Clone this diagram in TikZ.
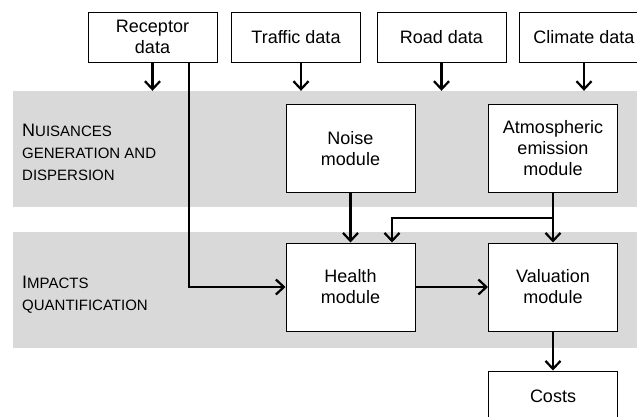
\documentclass[tikz,border=0pt]{standalone}
\usepackage{fontspec}
\setmainfont{Liberation Sans}
\usetikzlibrary{arrows.meta,calc}
\definecolor{bandgray}{RGB}{217,217,217}
\newcommand{\stagecap}[1]{{\fontsize{18}{22}\selectfont #1}}
\begin{document}
\begin{tikzpicture}[
  x=1pt, y=-1pt,
  box/.style={rectangle, draw, line width=1pt, fill=white, inner sep=0pt,
    minimum width=129pt, align=center, font=\fontsize{18}{21}\selectfont},
  data/.style={box, minimum height=50pt},
  module/.style={box, minimum height=88pt},
  band/.style={rectangle, fill=bandgray, inner sep=0pt, minimum width=627pt, minimum height=116pt},
  stage/.style={anchor=west, inner sep=0pt, align=left, font=\fontsize{15}{22}\selectfont},
  flow/.style={draw, line width=2.2pt, -{Straight Barb[length=8pt,width=15pt,line width=2.2pt]}}
]
\useasboundingbox (0,0) rectangle (637,416);
% shaded stages
\node[band] (band1) at (326.5,149) {};
\node[band] (band2) at (326.5,290) {};
\node[stage] (nuis) at (22,152) {\stagecap{N}UISANCES\\GENERATION AND\\DISPERSION};
\node[stage] (imp) at (22,295) {\stagecap{I}MPACTS\\QUANTIFICATION};
% inputs
\node[data] (receptor) at (152.5,37) {Receptor\\data};
\node[data] (traffic) at (296,37) {Traffic data};
\node[data] (road) at (441.5,37) {Road data};
\node[data] (climate) at (584,37) {Climate data};
% modules
\node[module] (noise) at (350.5,148.5) {Noise\\module};
\node[module] (atmos) at (553,148.5) {Atmospheric\\emission\\module};
\node[module] (health) at (350.5,287) {Health\\module};
\node[module] (valuation) at (553,287) {Valuation\\module};
\node[data] (costs) at (553,396) {Costs};
\coordinate (split) at ($(atmos.south)!0.5!(valuation.north)$);
% connectors
\draw[flow] (receptor.south) -- (receptor.south |- band1.north);
\draw[flow] ([xshift=5pt]traffic.south) -- ([xshift=5pt]traffic.south |- band1.north);
\draw[flow] (road.south) -- (road.south |- band1.north);
\draw[flow] (climate.south) -- (climate.south |- band1.north);
\draw[flow] ([xshift=36.5pt]receptor.south) |- (health.west);
\draw[flow] (noise.south) -- (health.north);
\draw[flow] (atmos.south) -- (valuation.north);
\draw[flow] (split) -| ([xshift=41.5pt]health.north);
\draw[flow] (health.east) -- (valuation.west);
\draw[flow] (valuation.south) -- (costs.north);
\end{tikzpicture}
\end{document}
